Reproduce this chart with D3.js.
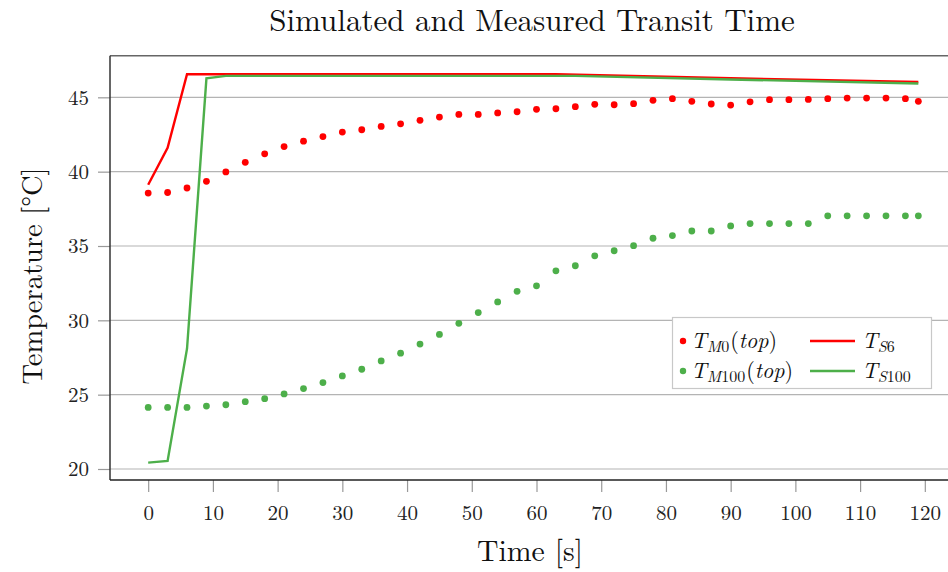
<!DOCTYPE html>
<html>
<head>
<meta charset="utf-8">
<script src="https://cdn.jsdelivr.net/npm/d3@7"></script>
<style>
  html, body { margin: 0; padding: 0; background: #fff; }
</style>
</head>
<body>
<svg id="chart" width="948" height="572"></svg>
<script>
// ---- data ----
const measTime = [0,3,6,9,12,15,18,21,24,27,30,33,36,39,42,45,48,51,54,57,60,63,66,69,72,75,78,81,84,87,90,93,96,99,102,105,108,111,114,117,119];
const tM0 = [38.56,38.6,38.9,39.35,39.98,40.63,41.2,41.69,42.05,42.36,42.66,42.82,43.04,43.22,43.45,43.67,43.85,43.85,43.95,44.03,44.19,44.23,44.37,44.53,44.5,44.57,44.8,44.91,44.73,44.55,44.48,44.7,44.84,44.84,44.86,44.91,44.95,44.95,44.95,44.91,44.73];
const tM100 = [24.14,24.14,24.14,24.23,24.32,24.53,24.73,25.05,25.41,25.81,26.26,26.71,27.27,27.79,28.4,29.05,29.8,30.52,31.24,31.95,32.32,33.33,33.67,34.34,34.68,35.02,35.52,35.7,36.01,36.01,36.35,36.51,36.51,36.51,36.51,37.03,37.03,37.03,37.03,37.03,37.03];
const simTimeS6 = [0,3,6,63,90,119];
const tS6 = [39.12,41.6,46.55,46.55,46.28,46.03];
const simTimeS100 = [0,3,6,9,12,66,90,119];
const tS100 = [20.43,20.54,28.09,46.28,46.44,46.44,46.2,45.93];
const xTicks = [0,10,20,30,40,50,60,70,80,90,100,110,120];
const yTicks = [20,25,30,35,40,45];
const titleText = "Simulated and Measured Transit Time";
const xLabel = "Time [s]";
const yLabel = "Temperature [°C]";

const RED = "#ff0000", GREEN = "#4daf4a";
const FONT = "'Latin Modern Roman', 'Liberation Serif', serif";

const svg = d3.select("#chart");
const L = 110, R = 952, T = 55.7, B = 480;
const x = d3.scaleLinear().domain([-5.9, 124.2]).range([L, R]);
const y = d3.scaleLinear().domain([19.26, 47.8]).range([B, T]);

function fit(sel, target) {
  const w = sel.node().getComputedTextLength();
  const fs = parseFloat(sel.style("font-size"));
  sel.style("font-size", (fs * target / w).toFixed(2) + "px");
}

// grid
svg.append("g").selectAll("line").data(yTicks).join("line")
  .attr("x1", L).attr("x2", R)
  .attr("y1", d => y(d)).attr("y2", d => y(d))
  .attr("stroke", "#b4b4b4").attr("stroke-width", 1.2);

// top border
svg.append("line").attr("x1", L).attr("x2", R).attr("y1", T).attr("y2", T)
  .attr("stroke", "#666").attr("stroke-width", 1.5);

// axes
const xAxis = d3.axisBottom(x).tickValues(xTicks).tickSize(12).tickPadding(8).tickFormat(d3.format("d"));
const gx = svg.append("g").attr("transform", `translate(0,${B})`).call(xAxis);
gx.select(".domain").remove();
gx.selectAll(".tick line").attr("stroke", "#999").attr("stroke-width", 1.2);
gx.selectAll(".tick text").style("font-family", FONT).style("font-size", "21px").attr("fill", "#222").attr("dy", "0.95em");

const yAxis = d3.axisLeft(y).tickValues(yTicks).tickSize(12).tickPadding(9).tickFormat(d3.format("d"));
const gy = svg.append("g").attr("transform", `translate(${L},0)`).call(yAxis);
gy.select(".domain").remove();
gy.selectAll(".tick line").attr("stroke", "#999").attr("stroke-width", 1.2);
gy.selectAll(".tick text").style("font-family", FONT).style("font-size", "21px").attr("fill", "#222");

svg.append("line").attr("x1", L).attr("x2", L).attr("y1", T).attr("y2", B)
  .attr("stroke", "#333").attr("stroke-width", 1.5);
svg.append("line").attr("x1", L).attr("x2", R).attr("y1", B).attr("y2", B)
  .attr("stroke", "#222").attr("stroke-width", 1.5);

// simulated lines
const line = d3.line().x(d => x(d[0])).y(d => y(d[1]));
svg.append("path").datum(d3.zip(simTimeS6, tS6)).attr("d", line)
  .attr("fill", "none").attr("stroke", RED).attr("stroke-width", 2.4);
svg.append("path").datum(d3.zip(simTimeS100, tS100)).attr("d", line)
  .attr("fill", "none").attr("stroke", GREEN).attr("stroke-width", 2.4);

// measured dots
svg.append("g").selectAll("circle").data(d3.zip(measTime, tM0)).join("circle")
  .attr("cx", d => x(d[0])).attr("cy", d => y(d[1])).attr("r", 3.4).attr("fill", RED);
svg.append("g").selectAll("circle").data(d3.zip(measTime, tM100)).join("circle")
  .attr("cx", d => x(d[0])).attr("cy", d => y(d[1])).attr("r", 3.4).attr("fill", GREEN);

// title & labels
const title = svg.append("text").attr("x", 532).attr("y", 31).attr("text-anchor", "middle")
  .style("font-family", FONT).style("font-size", "28px").attr("fill", "#111").text(titleText);
fit(title, 526);
const xl = svg.append("text").attr("x", 530).attr("y", 561).attr("text-anchor", "middle")
  .style("font-family", FONT).style("font-size", "30px").attr("fill", "#111").text(xLabel);
fit(xl, 106);
const yl = svg.append("text").attr("transform", "translate(42,276) rotate(-90)").attr("text-anchor", "middle")
  .style("font-family", FONT).style("font-size", "30px").attr("fill", "#111").text(yLabel);
fit(yl, 217);

// legend
const lg = svg.append("g");
lg.append("rect").attr("x", 672.5).attr("y", 317.5).attr("width", 259).attr("height", 71)
  .attr("fill", "#fff").attr("stroke", "#c8c8c8").attr("stroke-width", 1.2);
const entries = [
  {type: "dot", color: RED, sub: "M0", tail: true, row: 0},
  {type: "line", color: RED, sub: "S6", tail: false, row: 0},
  {type: "dot", color: GREEN, sub: "M100", tail: true, row: 1},
  {type: "line", color: GREEN, sub: "S100", tail: false, row: 1}
];
entries.forEach(e => {
  const cy = 341 + e.row * 30;
  if (e.type === "dot") {
    lg.append("circle").attr("cx", 683).attr("cy", cy).attr("r", 3.2).attr("fill", e.color);
  } else {
    lg.append("line").attr("x1", 810).attr("x2", 855).attr("y1", cy).attr("y2", cy)
      .attr("stroke", e.color).attr("stroke-width", 2.4);
  }
  const tx = e.type === "dot" ? 691 : 862;
  const t = lg.append("text").attr("x", tx).attr("y", cy + 7)
    .style("font-family", FONT).style("font-size", "22px").attr("fill", "#111");
  t.append("tspan").style("font-style", "italic").text("T");
  t.append("tspan").style("font-size", "16px").style("font-style", "italic").attr("dy", 4).text(e.sub[0]);
  t.append("tspan").style("font-size", "16px").text(e.sub.slice(1));
  if (e.tail) {
    t.append("tspan").attr("dy", -4).attr("dx", 1).text("(");
    t.append("tspan").style("font-style", "italic").text("top");
    t.append("tspan").text(")");
  }
});
</script>
</body>
</html>
